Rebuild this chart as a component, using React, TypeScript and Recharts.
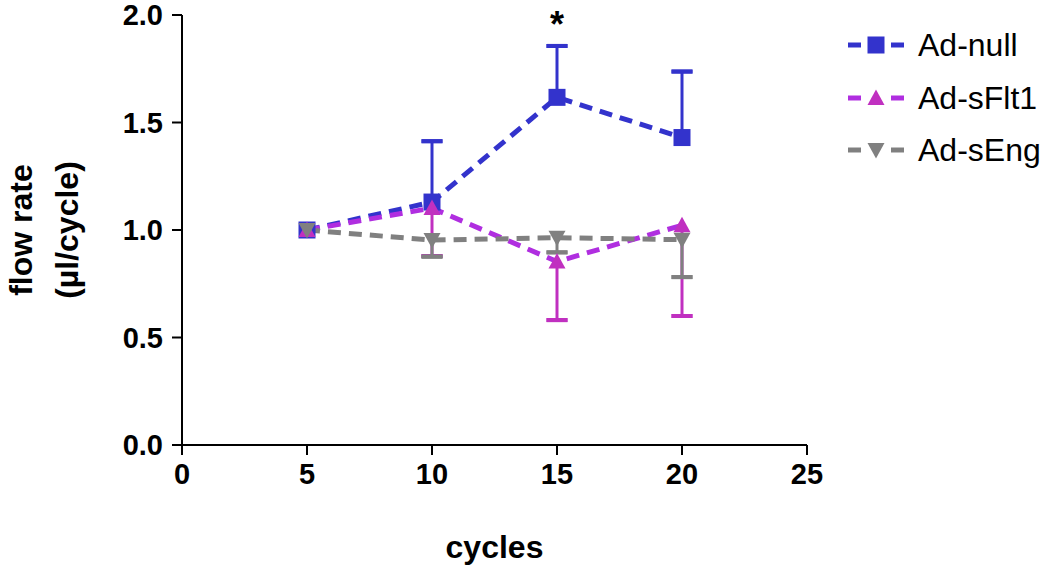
import React from 'react';
import { LineChart, Line, XAxis, YAxis, ErrorBar, Legend, ReferenceDot } from 'recharts';

// ---- data ----
const cycles = [5, 10, 15, 20];
const adNull = [1.0, 1.13, 1.617, 1.43];
const adNullErrUp = [null, 0.283, 0.239, 0.307];
const adSFlt1 = [1.0, 1.102, 0.853, 1.022];
const adSFlt1ErrDown = [null, 0.223, 0.272, 0.422];
const adSEng = [1.0, 0.953, 0.964, 0.955];
const adSEngErrDown = [null, 0.077, 0.068, 0.174];

const xTicks = [0, 5, 10, 15, 20, 25];
const yTicks = [0, 0.5, 1.0, 1.5, 2.0];
const seriesNames = ['Ad-null', 'Ad-sFlt1', 'Ad-sEng'];
const markX = 15;
const markY = 1.90;
const markText = '*';

const xTitle = 'cycles';
const yTitle1 = 'flow rate';
const yTitle2 = '(\u00b5l/cycle)';

// ---- styles ----
const FONT = "'Liberation Sans', Arial, Helvetica, sans-serif";
const BLUE = '#3333CC';
const PURPLE_LINE = '#B02EE0';
const MAGENTA = '#C030C0';
const GRAY = '#808080';

const data = cycles.map((c, i) => ({
  cycle: c,
  nullV: adNull[i],
  nullStem: adNullErrUp[i] == null ? null : [0, adNullErrUp[i]],
  nullCap: adNullErrUp[i] == null ? null : [-(adNullErrUp[i] as number), adNullErrUp[i]],
  fltV: adSFlt1[i],
  fltStem: adSFlt1ErrDown[i] == null ? null : [adSFlt1ErrDown[i], 0],
  fltCap: adSFlt1ErrDown[i] == null ? null : [adSFlt1ErrDown[i], -(adSFlt1ErrDown[i] as number)],
  engV: adSEng[i],
  engStem: adSEngErrDown[i] == null ? null : [adSEngErrDown[i], 0],
  engCap: adSEngErrDown[i] == null ? null : [adSEngErrDown[i], -(adSEngErrDown[i] as number)],
}));

const S = 17;

const makeDot = (kind: 'sq' | 'up' | 'down', color: string) => (props: any) => {
  const { cx, cy, index } = props;
  if (cx == null || cy == null) return <g key={`e${index}`} />;
  const h = S / 2;
  if (kind === 'sq') {
    return <rect key={`d${index}`} x={cx - h} y={cy - h} width={S} height={S} fill={color} />;
  }
  if (kind === 'up') {
    return (
      <polygon
        key={`d${index}`}
        points={`${cx},${cy - 8.5} ${cx + h},${cy + 7} ${cx - h},${cy + 7}`}
        fill={color}
      />
    );
  }
  return (
    <polygon
      key={`d${index}`}
      points={`${cx - h},${cy - 7} ${cx + h},${cy - 7} ${cx},${cy + 8.5}`}
      fill={color}
    />
  );
};

const legendItems = [
  { name: seriesNames[0], line: BLUE, mark: BLUE, kind: 'sq' as const },
  { name: seriesNames[1], line: PURPLE_LINE, mark: MAGENTA, kind: 'up' as const },
  { name: seriesNames[2], line: GRAY, mark: GRAY, kind: 'down' as const },
];

const renderLegend = () => (
  <div style={{ fontFamily: FONT, fontSize: 32, color: '#000' }}>
    {legendItems.map((it) => (
      <div key={it.name} style={{ display: 'flex', alignItems: 'center', height: 52.5 }}>
        <svg width={60} height={30} style={{ display: 'block' }}>
          <line x1={2} y1={15} x2={15} y2={15} stroke={it.line} strokeWidth={5} />
          <line x1={45} y1={15} x2={58} y2={15} stroke={it.line} strokeWidth={5} />
          {it.kind === 'sq' && <rect x={21.5} y={6.5} width={17} height={17} fill={it.mark} />}
          {it.kind === 'up' && <polygon points={`30,6.5 38.5,22 21.5,22`} fill={it.mark} />}
          {it.kind === 'down' && <polygon points={`21.5,8 38.5,8 30,23.5`} fill={it.mark} />}
        </svg>
        <span style={{ marginLeft: 12, lineHeight: '32px' }}>{it.name}</span>
      </div>
    ))}
  </div>
);

const XTitle = (props: any) => {
  const vb = props.viewBox || {};
  const cx = vb.x + vb.width / 2;
  return (
    <text x={cx} y={vb.y + 113} textAnchor="middle" fontFamily={FONT} fontWeight="bold" fontSize={32} fill="#000">
      {xTitle}
    </text>
  );
};

const YTitle = (props: any) => {
  const vb = props.viewBox || {};
  const cy = vb.y + vb.height / 2;
  return (
    <g>
      <text x={32} y={cy} transform={`rotate(-90, 32, ${cy})`} textAnchor="middle" fontFamily={FONT} fontWeight="bold" fontSize={32} fill="#000">
        {yTitle1}
      </text>
      <text x={78} y={cy} transform={`rotate(-90, 78, ${cy})`} textAnchor="middle" fontFamily={FONT} fontWeight="bold" fontSize={32} fill="#000">
        {yTitle2}
      </text>
    </g>
  );
};

const Asterisk = (props: any) => {
  const { cx, cy } = props;
  return (
    <text x={cx} y={cy} textAnchor="middle" fontFamily={FONT} fontWeight="bold" fontSize={36} fill="#000">
      {markText}
    </text>
  );
};

const tickStyle = { fontSize: 29, fontWeight: 'bold', fill: '#000', fontFamily: FONT };
const axisStroke = { stroke: '#000', strokeWidth: 2 };

export default function App() {
  return (
    <div style={{ position: 'absolute', left: 0, top: 0, width: 1050, height: 576, background: '#fff' }}>
      <LineChart width={1050} height={576} data={data} margin={{ top: 15, right: 243, bottom: 0, left: 0 }}>
        <XAxis
          type="number"
          dataKey="cycle"
          domain={[0, 25]}
          ticks={xTicks}
          height={131}
          tickSize={10}
          tickMargin={8}
          tick={tickStyle}
          axisLine={axisStroke}
          tickLine={axisStroke}
          interval={0}
          label={{ content: XTitle }}
        />
        <YAxis
          type="number"
          domain={[0, 2]}
          ticks={yTicks}
          width={182}
          tickSize={10}
          tickMargin={9}
          tick={tickStyle}
          axisLine={axisStroke}
          tickLine={axisStroke}
          interval={0}
          tickFormatter={(v: number) => v.toFixed(1)}
          label={{ content: YTitle }}
        />
        <Legend
          layout="vertical"
          align="center"
          verticalAlign="middle"
          content={renderLegend}
          wrapperStyle={{ left: 846, top: 19, width: 204, height: 160 }}
        />
        <Line
          type="linear"
          dataKey="nullV"
          name={seriesNames[0]}
          stroke={BLUE}
          strokeWidth={5}
          strokeDasharray="13 8"
          dot={makeDot('sq', BLUE)}
          activeDot={false}
          isAnimationActive={false}
        >
          <ErrorBar dataKey="nullStem" direction="y" width={0} stroke={BLUE} strokeWidth={3} />
          <ErrorBar dataKey="nullCap" direction="y" width={10.5} stroke={BLUE} strokeWidth={4} />
        </Line>
        <Line
          type="linear"
          dataKey="fltV"
          name={seriesNames[1]}
          stroke={PURPLE_LINE}
          strokeWidth={5}
          strokeDasharray="13 8"
          dot={makeDot('up', MAGENTA)}
          activeDot={false}
          isAnimationActive={false}
        >
          <ErrorBar dataKey="fltStem" direction="y" width={0} stroke={MAGENTA} strokeWidth={3} />
          <ErrorBar dataKey="fltCap" direction="y" width={10.5} stroke={MAGENTA} strokeWidth={4} />
        </Line>
        <Line
          type="linear"
          dataKey="engV"
          name={seriesNames[2]}
          stroke={GRAY}
          strokeWidth={5}
          strokeDasharray="13 8"
          dot={makeDot('down', GRAY)}
          activeDot={false}
          isAnimationActive={false}
        >
          <ErrorBar dataKey="engStem" direction="y" width={0} stroke={GRAY} strokeWidth={3} />
          <ErrorBar dataKey="engCap" direction="y" width={10.5} stroke={GRAY} strokeWidth={4} />
        </Line>
        <ReferenceDot x={markX} y={markY} r={0} shape={Asterisk} ifOverflow="visible" />
      </LineChart>
    </div>
  );
}
